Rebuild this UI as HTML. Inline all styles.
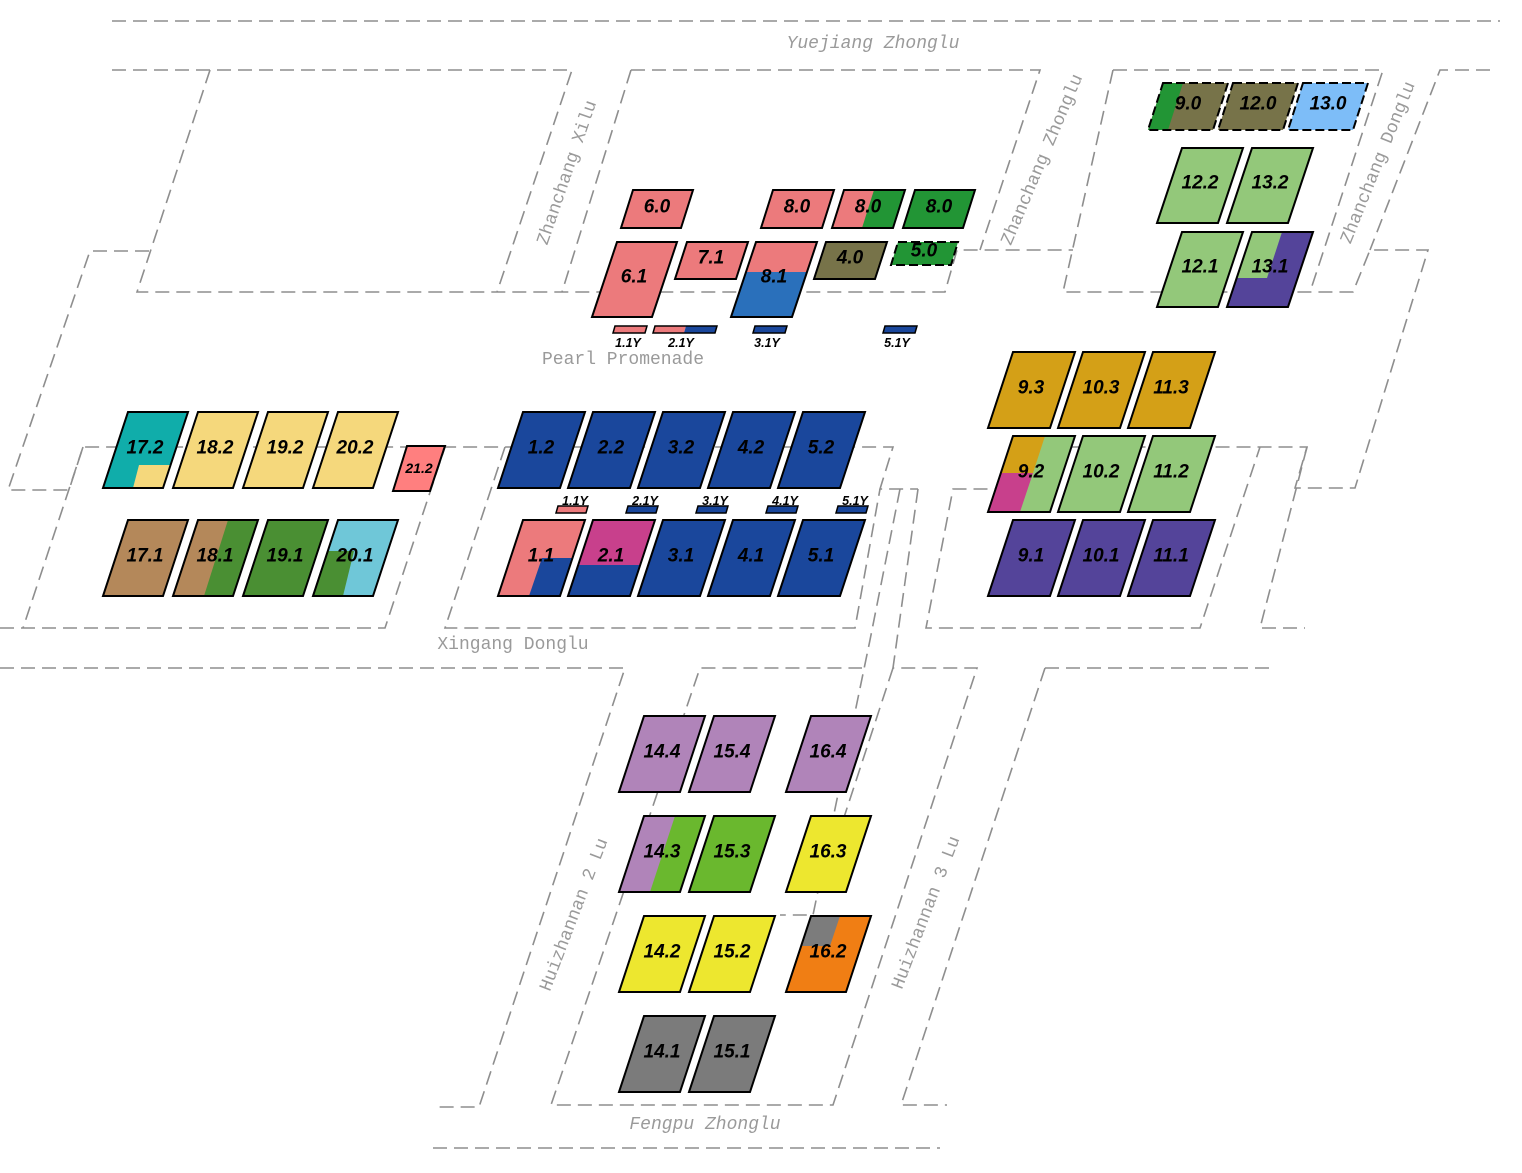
<!DOCTYPE html>
<html>
<head>
<meta charset="utf-8">
<style>
  html,body{margin:0;padding:0;background:#fff;}
  svg{display:block;}
  .rd{fill:none;stroke:#8e8e8e;stroke-width:1.6;stroke-dasharray:14 7;}
  .b{stroke:#000;stroke-width:2;stroke-linejoin:miter;}
  .bd{stroke:#000;stroke-width:2;stroke-dasharray:9 4;}
  .o{fill:none;stroke:#000;stroke-width:2;}
  .n{stroke:none;}
  .lb{font-family:"Liberation Sans",Arial,sans-serif;font-weight:bold;font-style:italic;font-size:19px;fill:#000;text-anchor:middle;dominant-baseline:central;}
  .ly{font-family:"Liberation Sans",Arial,sans-serif;font-weight:bold;font-style:italic;font-size:12.5px;fill:#000;text-anchor:middle;}
  .rn{font-family:"Liberation Mono","DejaVu Sans Mono",monospace;font-size:18px;fill:#9a9a9a;text-anchor:middle;dominant-baseline:central;}
  .it{font-style:italic;}
</style>
</head>
<body>
<svg width="1522" height="1173" viewBox="0 0 1522 1173" xmlns="http://www.w3.org/2000/svg">
<rect width="1522" height="1173" fill="#fff"/>

<!-- Road dashed outlines -->
<g>
<path class="rd" d="M112,21 H1500"/>
<path class="rd" d="M112,70 H572 L497,292"/>
<path class="rd" d="M210,70 L137,292 H945 L957,250 H1073"/>
<path class="rd" d="M631,70 L562,292"/>
<path class="rd" d="M631,70 H1040 L980,250"/>
<path class="rd" d="M1113,70 L1063,292 H1353 L1370,250 H1428 L1355,488 H1295 L1307,447 H1013 L1000,489 H953 L926,628 H1200 L1260,447"/>
<path class="rd" d="M1113,70 H1383 L1310,292"/>
<path class="rd" d="M1490,70 H1440 L1370,250"/>
<path class="rd" d="M149,251 H90 L8,490 H69 L83,447 H893 L880,489 H918"/>
<path class="rd" d="M83,447 L23,628"/>
<path class="rd" d="M0,628 H385 L445,447"/>
<path class="rd" d="M505,447 L445,628 H855 L880,489"/>
<path class="rd" d="M900,489 L870,640 L813,915 H780"/>
<path class="rd" d="M918,489 L893,668 H977 L833,1105 H551 L700,668 H862"/>
<path class="rd" d="M893,668 L830,860"/>
<path class="rd" d="M0,668 H625 L479,1107 H433"/>
<path class="rd" d="M433,1148 H940"/>
<path class="rd" d="M1045,668 H1275"/>
<path class="rd" d="M1045,668 L901,1105 H947"/>
<path class="rd" d="M1307,447 L1260,628 H1305"/>
</g>

<!-- Road names -->
<text class="rn it" x="873" y="44">Yuejiang Zhonglu</text>
<text class="rn" x="623" y="360">Pearl Promenade</text>
<text class="rn" x="513" y="645">Xingang Donglu</text>
<text class="rn it" x="705" y="1125">Fengpu Zhonglu</text>
<text class="rn" transform="translate(568,173) rotate(-71)">Zhanchang Xilu</text>
<text class="rn" transform="translate(1043,160) rotate(-67)">Zhanchang Zhonglu</text>
<text class="rn" transform="translate(1379,163) rotate(-68)">Zhanchang Donglu</text>
<text class="rn" transform="translate(575,915) rotate(-69)">Huizhannan 2 Lu</text>
<text class="rn" transform="translate(927,913) rotate(-69)">Huizhannan 3 Lu</text>

<!-- ===== Top center group ===== -->
<polygon class="b" fill="#ec7a7c" points="633,190 693,190 681,228 621,228"/>
<polygon class="b" fill="#ec7a7c" points="773,190 834,190 822,228 761,228"/>
<polygon class="n" fill="#ec7a7c" points="844,190 905,190 893,228 832,228"/>
<polygon class="n" fill="#229535" points="874,190 905,190 893,228 862,228"/>
<polygon class="o" points="844,190 905,190 893,228 832,228"/>
<polygon class="b" fill="#229535" points="915,190 975,190 963,228 903,228"/>

<polygon class="b" fill="#ec7a7c" points="617,242 677,242 652,317 592,317"/>
<polygon class="b" fill="#ec7a7c" points="687,242 748,242 736,279 675,279"/>
<polygon class="n" fill="#ec7a7c" points="756,242 817,242 792,317 731,317"/>
<polygon class="n" fill="#2a70bb" points="746,272 807,272 792,317 731,317"/>
<polygon class="o" points="756,242 817,242 792,317 731,317"/>
<polygon class="b" fill="#777349" points="826,242 887,242 875,279 814,279"/>
<polygon class="bd" fill="#229535" points="898,242 958,242 951,265 891,265"/>

<text class="lb" x="657" y="207">6.0</text>
<text class="lb" x="797" y="207">8.0</text>
<text class="lb" x="868" y="207">8.0</text>
<text class="lb" x="939" y="207">8.0</text>
<text class="lb" x="634" y="277">6.1</text>
<text class="lb" x="711" y="258">7.1</text>
<text class="lb" x="774" y="277">8.1</text>
<text class="lb" x="850" y="258">4.0</text>
<text class="lb" x="924" y="251">5.0</text>

<!-- small Y bars top -->
<polygon fill="#ec7a7c" stroke="#000" stroke-width="1.5" points="615,326 647,326 645,333 613,333"/>
<polygon class="n" fill="#ec7a7c" points="655,326 686,326 684,333 653,333"/>
<polygon class="n" fill="#1a479c" points="686,326 717,326 715,333 684,333"/>
<polygon fill="none" stroke="#000" stroke-width="1.5" points="655,326 717,326 715,333 653,333"/>
<polygon fill="#1a479c" stroke="#000" stroke-width="1.5" points="755,326 787,326 785,333 753,333"/>
<polygon fill="#1a479c" stroke="#000" stroke-width="1.5" points="885,326 917,326 915,333 883,333"/>
<text class="ly" x="628" y="347">1.1Y</text>
<text class="ly" x="681" y="347">2.1Y</text>
<text class="ly" x="767" y="347">3.1Y</text>
<text class="ly" x="897" y="347">5.1Y</text>

<!-- ===== Top right group ===== -->
<polygon class="n" fill="#777349" points="1163,83 1228,83 1213,130 1148,130"/>
<polygon class="n" fill="#229535" points="1163,83 1183,83 1168,130 1148,130"/>
<polygon class="bd" fill="none" points="1163,83 1228,83 1213,130 1148,130"/>
<polygon class="bd" fill="#777349" points="1233,83 1298,83 1283,130 1218,130"/>
<polygon class="bd" fill="#7dbdf8" points="1303,83 1368,83 1353,130 1288,130"/>
<polygon class="b" fill="#93c87a" points="1182,148 1243,148 1218,223 1157,223"/>
<polygon class="b" fill="#93c87a" points="1252,148 1313,148 1288,223 1227,223"/>
<polygon class="b" fill="#93c87a" points="1182,232 1243,232 1218,307 1157,307"/>
<polygon class="n" fill="#54449a" points="1252,232 1313,232 1288,307 1227,307"/>
<polygon class="n" fill="#93c87a" points="1252,232 1282,232 1267,278 1237,278"/>
<polygon class="o" points="1252,232 1313,232 1288,307 1227,307"/>
<text class="lb" x="1188" y="104">9.0</text>
<text class="lb" x="1258" y="104">12.0</text>
<text class="lb" x="1328" y="104">13.0</text>
<text class="lb" x="1200" y="183">12.2</text>
<text class="lb" x="1270" y="183">13.2</text>
<text class="lb" x="1200" y="267">12.1</text>
<text class="lb" x="1270" y="267">13.1</text>

<!-- ===== Left group ===== -->
<polygon class="n" fill="#10adaa" points="128,412 188,412 163,488 103,488"/>
<polygon class="n" fill="#f5d87c" points="139,465 171,465 163,488 133,488"/>
<polygon class="o" points="128,412 188,412 163,488 103,488"/>
<polygon class="b" fill="#f5d87c" points="198,412 258,412 233,488 173,488"/>
<polygon class="b" fill="#f5d87c" points="268,412 328,412 303,488 243,488"/>
<polygon class="b" fill="#f5d87c" points="338,412 398,412 373,488 313,488"/>
<polygon class="b" fill="#ff7f7f" points="407,446 445,446 430,491 393,491"/>

<polygon class="b" fill="#b4885a" points="128,520 188,520 163,596 103,596"/>
<polygon class="n" fill="#b4885a" points="198,520 258,520 233,596 173,596"/>
<polygon class="n" fill="#4a8f33" points="228,520 258,520 233,596 204,596"/>
<polygon class="o" points="198,520 258,520 233,596 173,596"/>
<polygon class="b" fill="#4a8f33" points="268,520 328,520 303,596 243,596"/>
<polygon class="n" fill="#6fc7d8" points="338,520 398,520 373,596 313,596"/>
<polygon class="n" fill="#4a8f33" points="328,551 354,551 343,596 313,596"/>
<polygon class="o" points="338,520 398,520 373,596 313,596"/>

<text class="lb" x="145" y="448">17.2</text>
<text class="lb" x="215" y="448">18.2</text>
<text class="lb" x="285" y="448">19.2</text>
<text class="lb" x="355" y="448">20.2</text>
<text class="lb" x="419" y="468" style="font-size:14px">21.2</text>
<text class="lb" x="145" y="556">17.1</text>
<text class="lb" x="215" y="556">18.1</text>
<text class="lb" x="285" y="556">19.1</text>
<text class="lb" x="355" y="556">20.1</text>

<!-- ===== Blue group ===== -->
<polygon class="b" fill="#1a479c" points="523,412 585,412 560,488 498,488"/>
<polygon class="b" fill="#1a479c" points="593,412 655,412 630,488 568,488"/>
<polygon class="b" fill="#1a479c" points="663,412 725,412 700,488 638,488"/>
<polygon class="b" fill="#1a479c" points="733,412 795,412 770,488 708,488"/>
<polygon class="b" fill="#1a479c" points="803,412 865,412 840,488 778,488"/>

<polygon fill="#ec7a7c" stroke="#000" stroke-width="1.5" points="558,506 588,506 586,513 556,513"/>
<polygon fill="#1a479c" stroke="#000" stroke-width="1.5" points="628,506 658,506 656,513 626,513"/>
<polygon fill="#1a479c" stroke="#000" stroke-width="1.5" points="698,506 728,506 726,513 696,513"/>
<polygon fill="#1a479c" stroke="#000" stroke-width="1.5" points="768,506 798,506 796,513 766,513"/>
<polygon fill="#1a479c" stroke="#000" stroke-width="1.5" points="838,506 868,506 866,513 836,513"/>
<text class="ly" x="575" y="505">1.1Y</text>
<text class="ly" x="645" y="505">2.1Y</text>
<text class="ly" x="715" y="505">3.1Y</text>
<text class="ly" x="785" y="505">4.1Y</text>
<text class="ly" x="855" y="505">5.1Y</text>

<polygon class="n" fill="#ec7a7c" points="523,520 585,520 560,596 498,596"/>
<polygon class="n" fill="#1a479c" points="542,558 573,558 560,596 529,596"/>
<polygon class="o" points="523,520 585,520 560,596 498,596"/>
<polygon class="n" fill="#c8408c" points="593,520 655,520 630,596 568,596"/>
<polygon class="n" fill="#1a479c" points="578,565 640,565 630,596 568,596"/>
<polygon class="o" points="593,520 655,520 630,596 568,596"/>
<polygon class="b" fill="#1a479c" points="663,520 725,520 700,596 638,596"/>
<polygon class="b" fill="#1a479c" points="733,520 795,520 770,596 708,596"/>
<polygon class="b" fill="#1a479c" points="803,520 865,520 840,596 778,596"/>

<text class="lb" x="541" y="448">1.2</text>
<text class="lb" x="611" y="448">2.2</text>
<text class="lb" x="681" y="448">3.2</text>
<text class="lb" x="751" y="448">4.2</text>
<text class="lb" x="821" y="448">5.2</text>
<text class="lb" x="541" y="556">1.1</text>
<text class="lb" x="611" y="556">2.1</text>
<text class="lb" x="681" y="556">3.1</text>
<text class="lb" x="751" y="556">4.1</text>
<text class="lb" x="821" y="556">5.1</text>

<!-- ===== Right group ===== -->
<polygon class="b" fill="#d4a017" points="1013,352 1075,352 1050,428 988,428"/>
<polygon class="b" fill="#d4a017" points="1083,352 1145,352 1120,428 1058,428"/>
<polygon class="b" fill="#d4a017" points="1153,352 1215,352 1190,428 1128,428"/>

<polygon class="n" fill="#93c87a" points="1013,436 1075,436 1050,512 988,512"/>
<polygon class="n" fill="#d4a017" points="1013,436 1045,436 1033,473 1001,473"/>
<polygon class="n" fill="#c8408c" points="1001,473 1033,473 1020,512 988,512"/>
<polygon class="o" points="1013,436 1075,436 1050,512 988,512"/>
<polygon class="b" fill="#93c87a" points="1083,436 1145,436 1120,512 1058,512"/>
<polygon class="b" fill="#93c87a" points="1153,436 1215,436 1190,512 1128,512"/>

<polygon class="b" fill="#54449a" points="1013,520 1075,520 1050,596 988,596"/>
<polygon class="b" fill="#54449a" points="1083,520 1145,520 1120,596 1058,596"/>
<polygon class="b" fill="#54449a" points="1153,520 1215,520 1190,596 1128,596"/>

<text class="lb" x="1031" y="388">9.3</text>
<text class="lb" x="1101" y="388">10.3</text>
<text class="lb" x="1171" y="388">11.3</text>
<text class="lb" x="1031" y="472">9.2</text>
<text class="lb" x="1101" y="472">10.2</text>
<text class="lb" x="1171" y="472">11.2</text>
<text class="lb" x="1031" y="556">9.1</text>
<text class="lb" x="1101" y="556">10.1</text>
<text class="lb" x="1171" y="556">11.1</text>

<!-- ===== Bottom group ===== -->
<polygon class="b" fill="#b084b9" points="644,716 705,716 680,792 619,792"/>
<polygon class="b" fill="#b084b9" points="714,716 775,716 750,792 689,792"/>
<polygon class="b" fill="#b084b9" points="811,716 871,716 846,792 786,792"/>

<polygon class="n" fill="#b084b9" points="644,816 705,816 680,892 619,892"/>
<polygon class="n" fill="#6ab82e" points="675,816 705,816 680,892 650,892"/>
<polygon class="o" points="644,816 705,816 680,892 619,892"/>
<polygon class="b" fill="#6ab82e" points="714,816 775,816 750,892 689,892"/>
<polygon class="b" fill="#ede72f" points="811,816 871,816 846,892 786,892"/>

<polygon class="b" fill="#ede72f" points="644,916 705,916 680,992 619,992"/>
<polygon class="b" fill="#ede72f" points="714,916 775,916 750,992 689,992"/>
<polygon class="n" fill="#f07e14" points="811,916 871,916 846,992 786,992"/>
<polygon class="n" fill="#7c7c7c" points="811,916 840,916 830,946 801,946"/>
<polygon class="o" points="811,916 871,916 846,992 786,992"/>

<polygon class="b" fill="#7b7b7b" points="644,1016 705,1016 680,1092 619,1092"/>
<polygon class="b" fill="#7b7b7b" points="714,1016 775,1016 750,1092 689,1092"/>

<text class="lb" x="662" y="752">14.4</text>
<text class="lb" x="732" y="752">15.4</text>
<text class="lb" x="828" y="752">16.4</text>
<text class="lb" x="662" y="852">14.3</text>
<text class="lb" x="732" y="852">15.3</text>
<text class="lb" x="828" y="852">16.3</text>
<text class="lb" x="662" y="952">14.2</text>
<text class="lb" x="732" y="952">15.2</text>
<text class="lb" x="828" y="952">16.2</text>
<text class="lb" x="662" y="1052">14.1</text>
<text class="lb" x="732" y="1052">15.1</text>
</svg>
</body>
</html>
